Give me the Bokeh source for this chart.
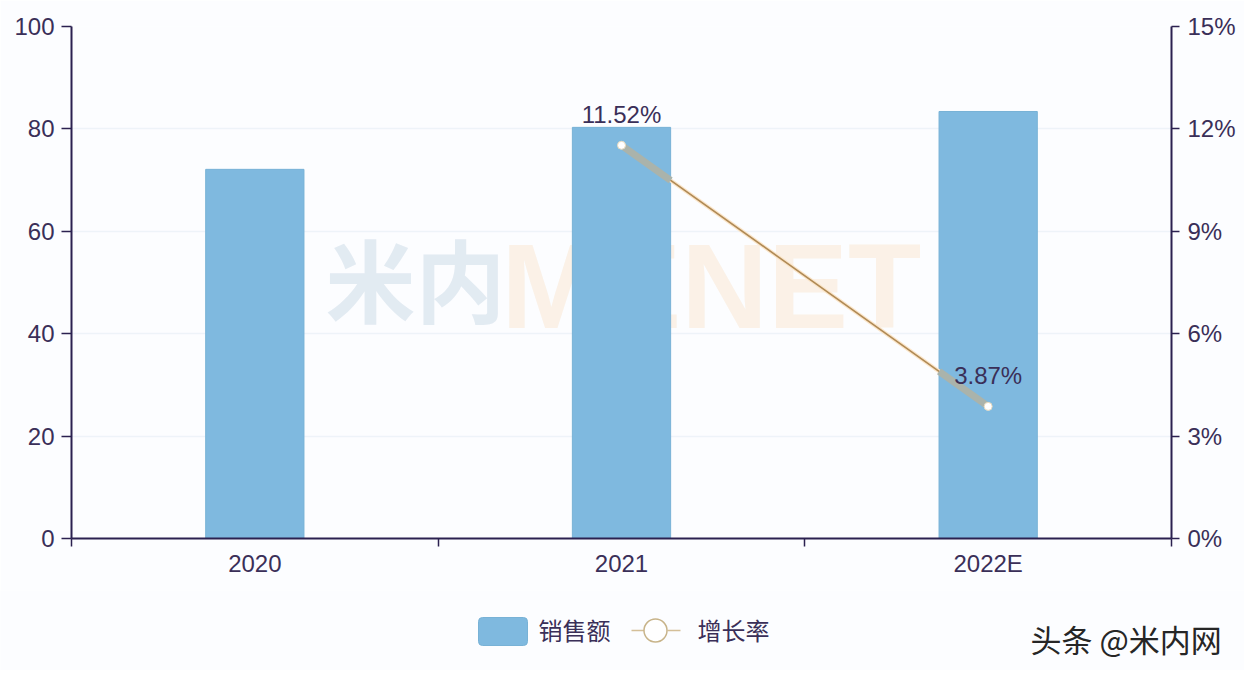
from bokeh.embed import file_html
from bokeh.resources import INLINE
from bokeh.plotting import figure
from bokeh.layouts import column
from bokeh.models import (ColumnDataSource, LinearAxis, Range1d, FixedTicker, Label)
from bokeh.core.properties import value

NAN = float("nan")
categories = ["2020", "2021", "2022E"]
sales = [72.1, 80.3, 83.4]
growth = [NAN, 11.52, 3.87]
growth_labels = ["", "11.52%", "3.87%"]
left_ticks = [0, 20, 40, 60, 80, 100]
right_ticks = [0, 3, 6, 9, 12, 15]
legend_names = ["销售额", "增长率"]
credit_text = "头条 @米内网"

INK = "#2b2150"
TEXT = "#3a2f58"
BAR = "#7fb9df"
LINE = "#b08a55"
BG = "#fcfdff"
GRID = "#eef3f9"
FONT = "Liberation Sans"
CJK = "Noto Sans CJK SC"
BAR_WIDTH = 0.268

W, H_MAIN, H_STRIP = 1244, 590, 80
xs = [i + 0.5 for i in range(len(categories))]

p = figure(width=W, height=H_MAIN, output_backend="svg", toolbar_location=None,
           x_range=Range1d(0, 3), y_range=Range1d(0, 100),
           frame_width=1100, frame_height=512,
           min_border_left=71, min_border_top=26, min_border_right=W - 1171, min_border_bottom=52,
           background_fill_color=BG, border_fill_color=BG, outline_line_color=None)
p.extra_y_ranges = {"pct": Range1d(0, 15)}

p.xgrid.visible = False
p.ygrid.ticker = FixedTicker(ticks=left_ticks)
p.ygrid.grid_line_color = GRID
p.ygrid.grid_line_width = 1.5


def style(ax, tick_out):
    ax.axis_line_color = INK
    ax.axis_line_width = 2
    ax.major_tick_line_color = INK
    ax.major_tick_line_width = 1.5
    ax.major_tick_in = 0
    ax.major_tick_out = tick_out
    ax.minor_tick_line_color = None
    ax.major_label_text_color = TEXT
    ax.major_label_text_font = FONT
    ax.major_label_text_font_size = "24px"


yl = p.yaxis[0]
yl.ticker = FixedTicker(ticks=left_ticks)
style(yl, 10)
yl.major_label_standoff = 7

yr = LinearAxis(y_range_name="pct", ticker=FixedTicker(ticks=right_ticks))
yr.major_label_overrides = {t: f"{t}%" for t in right_ticks}
style(yr, 8)
yr.major_label_standoff = 8
p.add_layout(yr, "right")

xa = p.xaxis[0]
edges = list(range(len(categories) + 1))
xa.ticker = FixedTicker(ticks=xs, minor_ticks=edges)
xa.major_label_overrides = {x: c for x, c in zip(xs, categories)}
style(xa, 0)
xa.major_tick_line_color = None
xa.minor_tick_line_color = INK
xa.minor_tick_line_width = 1.5
xa.minor_tick_in = 0
xa.minor_tick_out = 8
xa.major_label_standoff = 3

# watermark behind the marks
p.add_layout(Label(x=0.693, y=51, text="米内", text_font=CJK, text_font_size="90px",
                   text_font_style="bold", text_color="#b9cddd", text_alpha=0.38,
                   text_baseline="middle", text_align="left", level="underlay"))
p.add_layout(Label(x=1.172, y=49.4, text="MENET", text_font=FONT, text_font_size="120px",
                   text_font_style="bold", text_color="#f8d3a8", text_alpha=0.28,
                   text_baseline="middle", text_align="left", level="underlay"))

source = ColumnDataSource(dict(x=xs, sales=sales, growth=growth, label=growth_labels))

p.vbar(x="x", top="sales", bottom=0, width=BAR_WIDTH, source=source,
       fill_color=BAR, line_color="#78b2d6", line_width=1)

p.line(x="x", y="growth", source=source, y_range_name="pct", line_color="#fbe6cb", line_width=4)
p.line(x="x", y="growth", source=source, y_range_name="pct", line_color=LINE, line_width=1.6)

# where the line crosses a bar it reads as a broad greyish stroke
x0, x1, y0, y1 = xs[1], xs[2], growth[1], growth[2]
slope = (y1 - y0) / (x1 - x0)
half = BAR_WIDTH / 2
p.segment(x0=[x0, x1 - half], y0=[y0, y1 - half * slope],
          x1=[x0 + half, x1], y1=[y0 + half * slope, y1],
          y_range_name="pct", line_color="#aab3ab", line_width=7, line_alpha=1)

p.scatter(x="x", y="growth", source=source, y_range_name="pct", size=8, marker="circle",
          fill_color="#ffffff", line_color="#e8d9bd", line_width=1)

p.text(x="x", y="growth", text="label", source=source, y_range_name="pct",
       text_font=value(FONT), text_font_size="24px", text_color=TEXT,
       text_align="center", text_baseline="middle", y_offset=-31)

# strip under the chart: legend and credit, its ranges are page pixels
s = figure(width=W, height=H_STRIP, output_backend="svg", toolbar_location=None,
           x_range=Range1d(0, W), y_range=Range1d(H_MAIN + H_STRIP, H_MAIN),
           x_axis_location=None, y_axis_location=None,
           frame_width=W, frame_height=H_STRIP,
           min_border=0, min_border_left=0, min_border_right=0, min_border_top=0, min_border_bottom=0,
           background_fill_color=BG, border_fill_color=BG, outline_line_color=None)
s.grid.visible = False

s.quad(left=[478], right=[527], bottom=[645], top=[617], fill_color=BAR, line_color="#78b2d6",
       line_width=1, border_radius=4)
s.segment(x0=[631, 667], x1=[645, 680], y0=[630, 630], y1=[630, 630],
          line_color="#d4bf98", line_width=1.5)
s.scatter(x=[655], y=[630], size=23, marker="circle", fill_color="#ffffff",
          line_color="#c8b48a", line_width=1.5)
s.text(x=[538, 697], y=[629, 629], text=legend_names, text_font=value(CJK), text_font_size="24px",
       text_color=TEXT, text_align="left", text_baseline="middle")
s.text(x=[1030], y=[638], text=[credit_text], text_font=value(CJK), text_font_size="31px",
       text_color="#262626", text_align="left", text_baseline="middle")

page = column(p, column(s, spacing=0), spacing=0)
open("out.html", "w").write(file_html(page, INLINE))
